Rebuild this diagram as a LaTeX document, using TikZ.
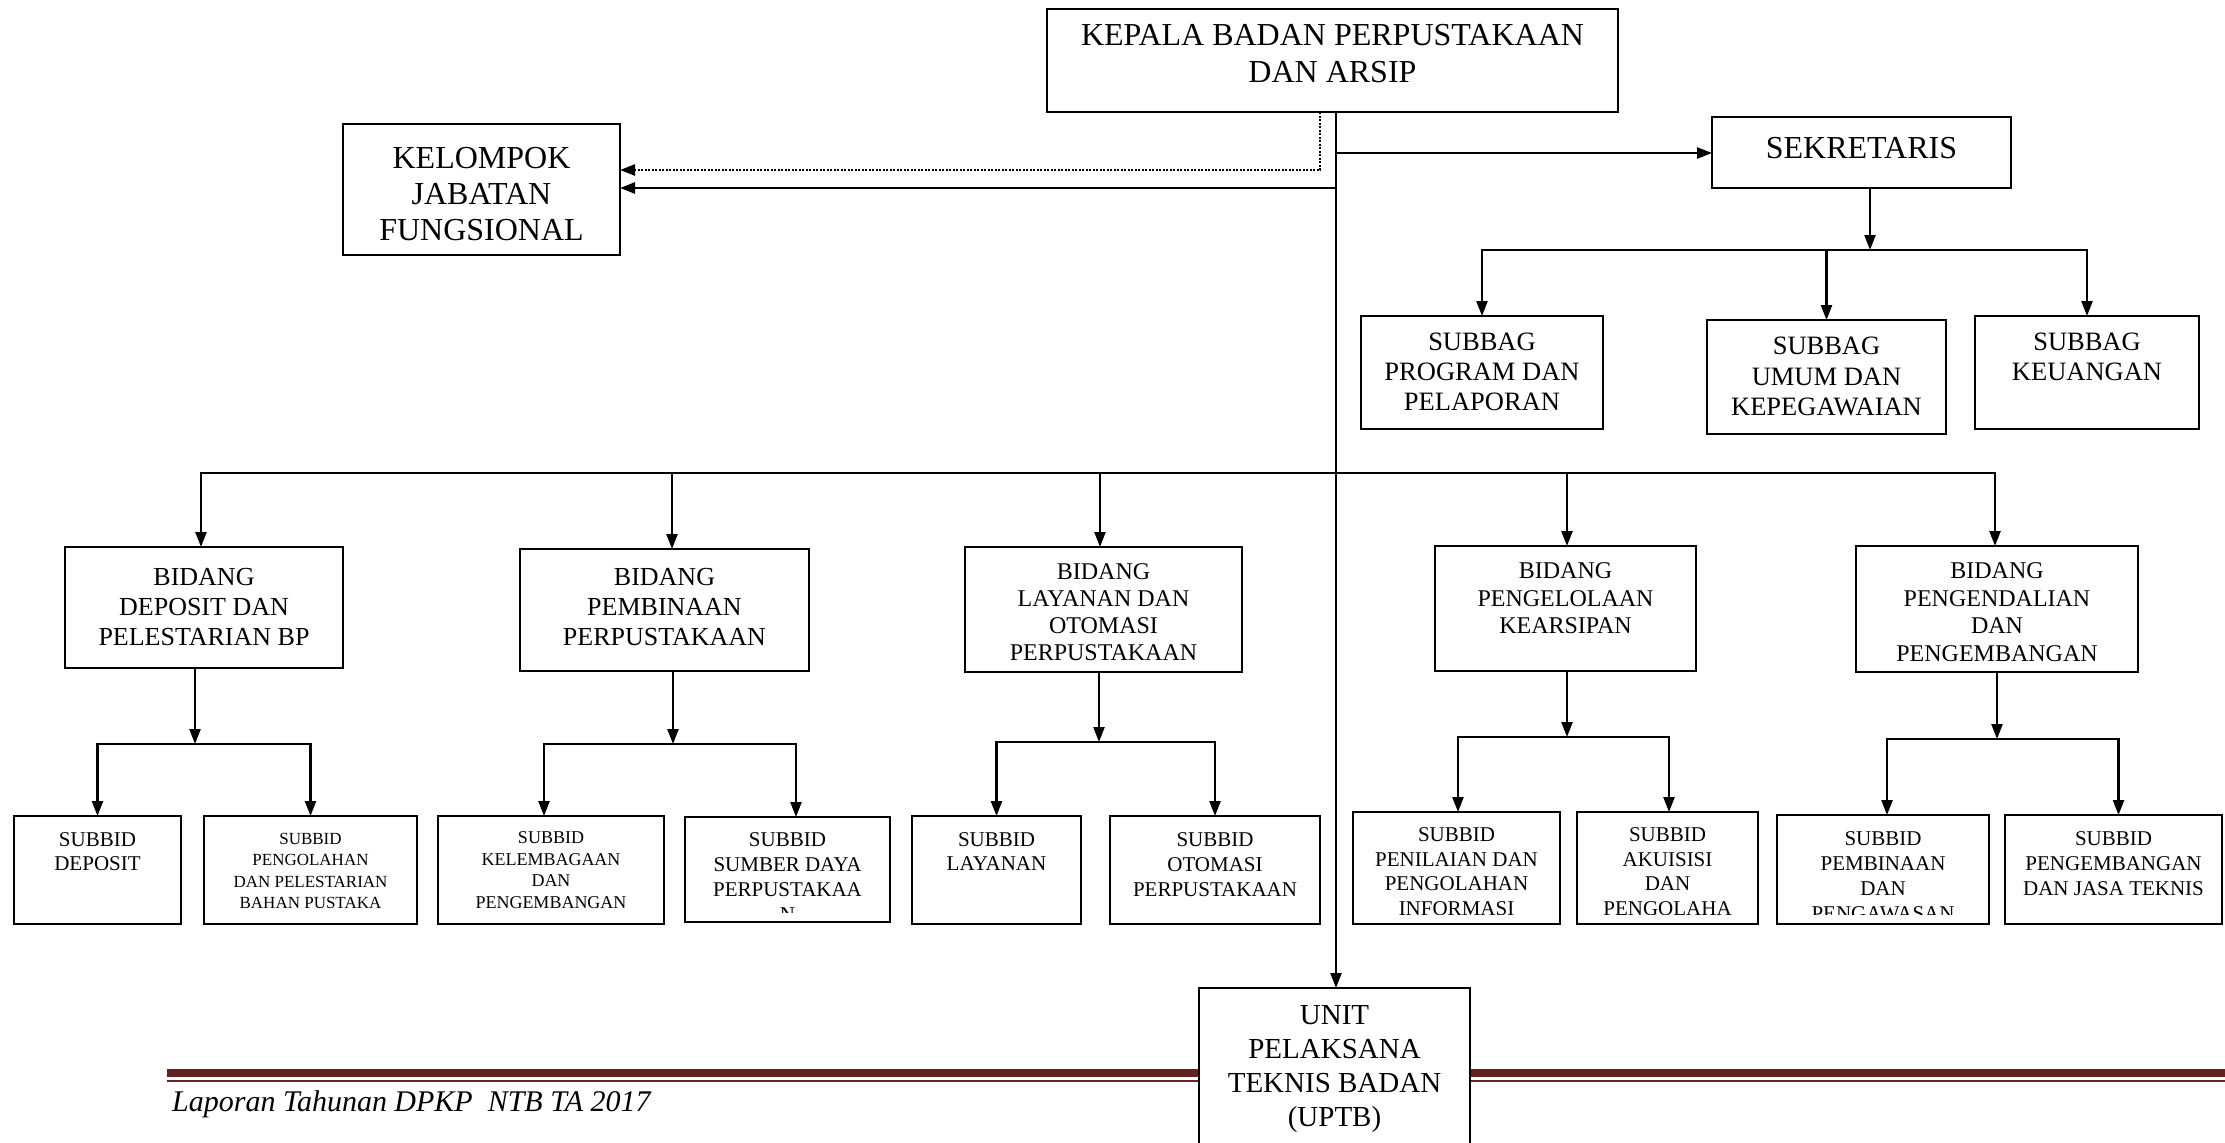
\documentclass[tikz,border=0pt]{standalone}
\usepackage{fontspec}
\setmainfont{Liberation Serif}
\usetikzlibrary{arrows.meta,fit}
\definecolor{barred}{HTML}{622423}
\newcommand{\fsz}[2]{\fontsize{#1}{#2}\selectfont}
\begin{document}
\begin{tikzpicture}[x=1pt,y=-1pt,
  orgbox/.style={draw, line width=2.2pt, inner sep=0pt, outer sep=0pt, fill=white},
  txt/.style={inner sep=0pt, outer sep=0pt, align=center, anchor=north},
  conn/.style={line width=2.4pt},
  arr/.style={line width=2.4pt, -{Triangle[length=15pt,width=11pt]}},
  dotarr/.style={line width=2.4pt, dash pattern=on 2pt off 1.5pt, -{Triangle[length=15pt,width=11pt]}}
]
\clip (0,0) rectangle (2225,1143);
\fill[white] (0,0) rectangle (2225,1143);

% footer
\fill[barred] (167,1068.5) rectangle (2225,1077);
\fill[barred] (167,1079.5) rectangle (2225,1081.5);
\node[inner sep=0pt, anchor=base west, font=\fsz{30}{34}\itshape] (footer) at (172,1111) {Laporan Tahunan DPKP\ \ NTB TA 2017};

% boxes
\node[orgbox, fit={(1047,9) (1618,112)}] (kepala) {};
\node[orgbox, fit={(343,124) (620,255)}] (kelompok) {};
\node[orgbox, fit={(1712,117) (2011,188)}] (sekretaris) {};
\node[orgbox, fit={(1361,316) (1603,429)}] (sbprog) {};
\node[orgbox, fit={(1707,320) (1946,434)}] (sbumum) {};
\node[orgbox, fit={(1975,316) (2199,429)}] (sbkeu) {};
\node[orgbox, fit={(65,547) (343,668)}] (bdep) {};
\node[orgbox, fit={(520,549) (809,671)}] (bpem) {};
\node[orgbox, fit={(965,547) (1242,672)}] (blay) {};
\node[orgbox, fit={(1435,546) (1696,671)}] (bpeng) {};
\node[orgbox, fit={(1856,546) (2138,672)}] (bpend) {};
\node[orgbox, fit={(14,816) (181,924)}] (sdep) {};
\node[orgbox, fit={(204,816) (417,924)}] (spengol) {};
\node[orgbox, fit={(438,816) (664,924)}] (skel) {};
\node[orgbox, fit={(685,817) (890,922)}] (ssum) {};
\node[orgbox, fit={(912,816) (1081,924)}] (slay) {};
\node[orgbox, fit={(1110,816) (1320,924)}] (soto) {};
\node[orgbox, fit={(1353,812) (1560,924)}] (spen) {};
\node[orgbox, fit={(1577,812) (1758,924)}] (saku) {};
\node[orgbox, fit={(1777,815) (1989,924)}] (spemb) {};
\node[orgbox, fit={(2005,815) (2222,924)}] (spengem) {};
\node[orgbox, fit={(1199,988) (1470,1160)}] (uptb) {};

% texts
\node[txt, font=\fsz{32}{37}] (kepala-t) at ([yshift=-15pt]kepala.north) {KEPALA BADAN PERPUSTAKAAN\\DAN ARSIP};
\node[txt, font=\fsz{32}{36}] (kelompok-t) at ([yshift=-23pt]kelompok.north) {KELOMPOK\\JABATAN\\FUNGSIONAL};
\node[txt, font=\fsz{32}{36}] (sekretaris-t) at ([yshift=-20pt]sekretaris.north) {SEKRETARIS};
\node[txt, font=\fsz{26.5}{30}] (sbprog-t) at ([yshift=-17pt]sbprog.north) {SUBBAG\\PROGRAM DAN\\PELAPORAN};
\node[txt, font=\fsz{26.5}{30.5}] (sbumum-t) at ([yshift=-17pt]sbumum.north) {SUBBAG\\UMUM DAN\\KEPEGAWAIAN};
\node[txt, font=\fsz{26.5}{30}] (sbkeu-t) at ([yshift=-17pt]sbkeu.north) {SUBBAG\\KEUANGAN};
\node[txt, font=\fsz{26}{30}] (bdep-t) at ([yshift=-21pt]bdep.north) {BIDANG\\DEPOSIT DAN\\PELESTARIAN BP};
\node[txt, font=\fsz{26}{30}] (bpem-t) at ([yshift=-19pt]bpem.north) {BIDANG\\PEMBINAAN\\PERPUSTAKAAN};
\node[txt, font=\fsz{24}{27}] (blay-t) at ([yshift=-17pt]blay.north) {BIDANG\\LAYANAN DAN\\OTOMASI\\PERPUSTAKAAN};
\node[txt, font=\fsz{24}{27.5}] (bpeng-t) at ([yshift=-17pt]bpeng.north) {BIDANG\\PENGELOLAAN\\KEARSIPAN};
\node[txt, font=\fsz{24}{27.5}] (bpend-t) at ([yshift=-17pt]bpend.north) {BIDANG\\PENGENDALIAN\\DAN\\PENGEMBANGAN};
\node[txt, font=\fsz{21}{24}] (sdep-t) at ([yshift=-17pt]sdep.north) {SUBBID\\DEPOSIT};
\node[txt, font=\fsz{17}{21.5}] (spengol-t) at ([yshift=-17pt]spengol.north) {SUBBID\\PENGOLAHAN\\DAN PELESTARIAN\\BAHAN PUSTAKA};
\node[txt, font=\fsz{18}{21.5}] (skel-t) at ([yshift=-16pt]skel.north) {SUBBID\\KELEMBAGAAN\\DAN\\PENGEMBANGAN};
\begin{scope}
  \clip (685,817) rectangle (890,912);
  \node[txt, font=\fsz{21}{25}] (ssum-t) at ([yshift=-16pt]ssum.north) {SUBBID\\SUMBER DAYA\\PERPUSTAKAA\\N};
\end{scope}
\node[txt, font=\fsz{21}{24}] (slay-t) at ([yshift=-17pt]slay.north) {SUBBID\\LAYANAN};
\node[txt, font=\fsz{21}{25}] (soto-t) at ([yshift=-17pt]soto.north) {SUBBID\\OTOMASI\\PERPUSTAKAAN};
\begin{scope}
  \clip (1353,812) rectangle (1560,914);
  \node[txt, font=\fsz{21}{24.5}] (spen-t) at ([yshift=-16pt]spen.north) {SUBBID\\PENILAIAN DAN\\PENGOLAHAN\\INFORMASI};
\end{scope}
\begin{scope}
  \clip (1577,812) rectangle (1758,914);
  \node[txt, font=\fsz{21}{24.5}] (saku-t) at ([yshift=-16pt]saku.north) {SUBBID\\AKUISISI\\DAN\\PENGOLAHA};
\end{scope}
\begin{scope}
  \clip (1777,815) rectangle (1989,914);
  \node[txt, font=\fsz{21}{24.7}] (spemb-t) at ([yshift=-17pt]spemb.north) {SUBBID\\PEMBINAAN\\DAN\\PENGAWASAN};
\end{scope}
\node[txt, font=\fsz{21}{25}] (spengem-t) at ([yshift=-17pt]spengem.north) {SUBBID\\PENGEMBANGAN\\DAN JASA TEKNIS};
\node[txt, font=\fsz{29}{34}] (uptb-t) at ([yshift=-17pt]uptb.north) {UNIT\\PELAKSANA\\TEKNIS BADAN\\(UPTB)};

% connectors
\coordinate (mx) at (1336,0);
\coordinate (d0) at (1320,0);
\coordinate (dy) at (0,170);
\coordinate (j1) at (1336,153);
\coordinate (j2) at (1336,188);
\draw[arr] (kepala.south -| mx) -- (uptb.north -| mx);
\draw[arr] (j1) -- (j1 -| sekretaris.west);
\draw[arr] (j2) -- (j2 -| kelompok.east);
\draw[dotarr] (kepala.south -| d0) |- (dy -| kelompok.east);

\coordinate (sx) at (1870,250);
\draw[arr] (sx |- sekretaris.south) -- (sx);
\draw[arr] (sx) -| (sbprog.north);
\draw[arr] (sx) -| (sbumum.north);
\draw[arr] (sx) -| (sbkeu.north);

\coordinate (bb) at (1336,473);
\draw[arr] (bb) -| ([xshift=-3pt]bdep.north);
\draw[arr] (bb) -| ([xshift=7.5pt]bpem.north);
\draw[arr] (bb) -| ([xshift=-3.5pt]blay.north);
\draw[arr] (bb) -| ([xshift=1.5pt]bpeng.north);
\draw[arr] (bb) -| ([xshift=-2pt]bpend.north);

\coordinate (s1) at (195,744);
\draw[arr] (s1 |- bdep.south) -- (s1);
\draw[arr] (s1) -| (sdep.north);
\draw[arr] (s1) -| (spengol.north);

\coordinate (s2) at (673,744);
\draw[arr] (s2 |- bpem.south) -- (s2);
\draw[arr] (s2) -| ([xshift=-7pt]skel.north);
\draw[arr] (s2) -| ([xshift=8.5pt]ssum.north);

\coordinate (s3) at (1099,742);
\draw[arr] (s3 |- blay.south) -- (s3);
\draw[arr] (s3) -| (slay.north);
\draw[arr] (s3) -| (soto.north);

\coordinate (s4) at (1567,737);
\draw[arr] (s4 |- bpeng.south) -- (s4);
\draw[arr] (s4) -| ([xshift=1.5pt]spen.north);
\draw[arr] (s4) -| ([xshift=1.5pt]saku.north);

\coordinate (s5) at (1997,739);
\draw[arr] (s5 |- bpend.south) -- (s5);
\draw[arr] (s5) -| ([xshift=4pt]spemb.north);
\draw[arr] (s5) -| ([xshift=5pt]spengem.north);
\end{tikzpicture}
\end{document}
